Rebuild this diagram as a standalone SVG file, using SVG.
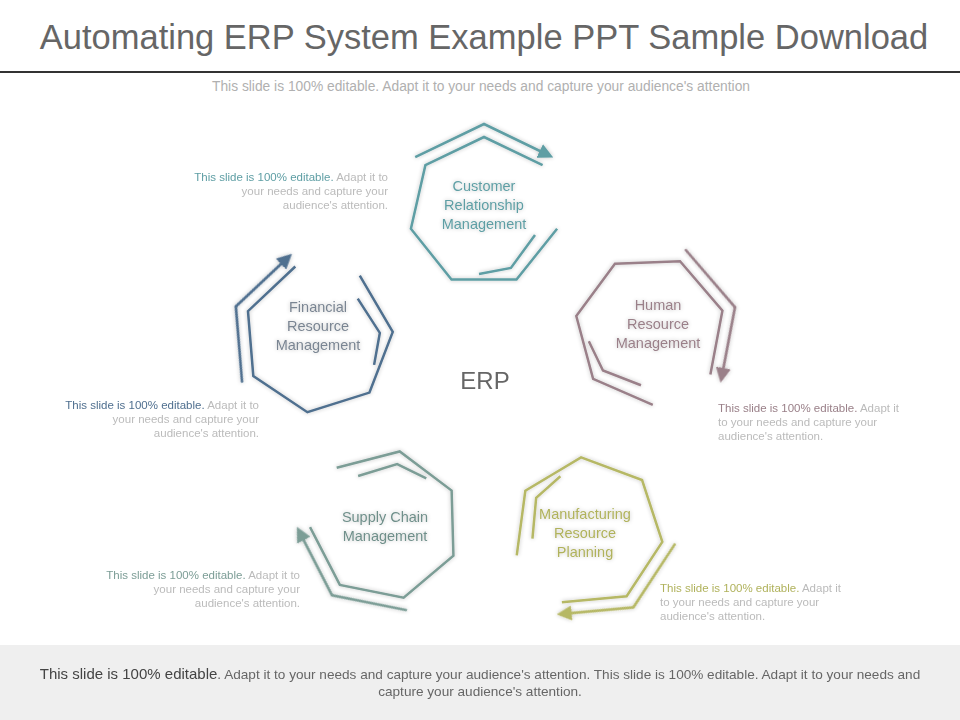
<svg xmlns="http://www.w3.org/2000/svg" xmlns:xlink="http://www.w3.org/1999/xlink" width="960" height="720" viewBox="0 0 960 720">
<style>
text{font-family:"Liberation Sans",Arial,sans-serif}
.lab{font-size:14.5px;text-anchor:middle}
.side{font-size:11.5px;fill:#bbb}
.ln{fill:none;stroke-width:2.5;stroke-linejoin:miter}
</style>
<defs>
<filter id="glow" x="-20%" y="-20%" width="140%" height="140%"><feGaussianBlur in="SourceAlpha" stdDeviation="2"/><feOffset dx="0" dy="0"/><feComponentTransfer><feFuncA type="linear" slope="0.25"/></feComponentTransfer><feMerge><feMergeNode/><feMergeNode in="SourceGraphic"/></feMerge></filter>
<marker id="m1" markerWidth="6" markerHeight="6" refX="1" refY="3" orient="auto" markerUnits="strokeWidth"><path d="M0,0 L6,3 L0,6 Z" fill="#5e9ea4"/></marker>
<marker id="m2" markerWidth="6" markerHeight="6" refX="1" refY="3" orient="auto" markerUnits="strokeWidth"><path d="M0,0 L6,3 L0,6 Z" fill="#4f6f8f"/></marker>
<marker id="m3" markerWidth="6" markerHeight="6" refX="1" refY="3" orient="auto" markerUnits="strokeWidth"><path d="M0,0 L6,3 L0,6 Z" fill="#9a8089"/></marker>
<marker id="m4" markerWidth="6" markerHeight="6" refX="1" refY="3" orient="auto" markerUnits="strokeWidth"><path d="M0,0 L6,3 L0,6 Z" fill="#b6b865"/></marker>
<marker id="m5" markerWidth="6" markerHeight="6" refX="1" refY="3" orient="auto" markerUnits="strokeWidth"><path d="M0,0 L6,3 L0,6 Z" fill="#7c9d96"/></marker>
<g id="hept">
<path class="ln" d="M73.1,16.7 L32.5,67.6 L-32.5,67.6 L-73.1,16.7 L-58.6,-46.8 L0,-75 L58.6,-46.8"/>
<path class="ln" d="M-5,62 L26.9,55.9 L51,23"/>
</g>
<path id="arc" class="ln" d="M-68.8,-54.9 L0,-88 L58,-60"/>
</defs>
<rect x="0" y="645" width="960" height="75" fill="#efefef"/>
<text x="484" y="49" font-size="34.5" fill="#666" text-anchor="middle">Automating ERP System Example PPT Sample Download</text>
<line x1="0" y1="72" x2="960" y2="72" stroke="#333" stroke-width="2"/>
<text x="481" y="91" font-size="13.8" fill="#b0b0b0" text-anchor="middle">This slide is 100% editable. Adapt it to your needs and capture your audience's attention</text>
<g id="connectors" filter="url(#glow)">
<use xlink:href="#arc" transform="translate(484,212)" stroke="#5e9ea4" marker-end="url(#m1)"/>
<use xlink:href="#arc" transform="translate(318,338) rotate(-69)" stroke="#4f6f8f" marker-end="url(#m2)"/>
<use xlink:href="#arc" transform="translate(650,330) rotate(75)" stroke="#9a8089" marker-end="url(#m3)"/>
<use xlink:href="#arc" transform="translate(588,532) rotate(149)" stroke="#b6b865" marker-end="url(#m4)"/>
<use xlink:href="#arc" transform="translate(385,525) rotate(217)" stroke="#7c9d96" marker-end="url(#m5)"/>
</g>
<g id="crm" filter="url(#glow)">
<use xlink:href="#hept" transform="translate(484,212)" stroke="#5e9ea4"/>
<text class="lab" fill="#5e9ea4" x="484" y="191">Customer<tspan x="484" dy="19">Relationship</tspan><tspan x="484" dy="19">Management</tspan></text>
</g>
<g id="frm" filter="url(#glow)">
<use xlink:href="#hept" transform="translate(318,338) rotate(-69)" stroke="#4f6f8f"/>
<text class="lab" fill="#7a8592" x="318" y="312">Financial<tspan x="318" dy="19">Resource</tspan><tspan x="318" dy="19">Management</tspan></text>
</g>
<g id="hrm" filter="url(#glow)">
<use xlink:href="#hept" transform="translate(650,330) rotate(75)" stroke="#9a8089"/>
<text class="lab" fill="#9a8089" x="658" y="310">Human<tspan x="658" dy="19">Resource</tspan><tspan x="658" dy="19">Management</tspan></text>
</g>
<g id="mrp" filter="url(#glow)">
<use xlink:href="#hept" transform="translate(588,532) rotate(149)" stroke="#b6b865"/>
<text class="lab" fill="#b0b25c" x="585" y="519">Manufacturing<tspan x="585" dy="19">Resource</tspan><tspan x="585" dy="19">Planning</tspan></text>
</g>
<g id="scm" filter="url(#glow)">
<use xlink:href="#hept" transform="translate(385,525) rotate(217)" stroke="#7c9d96"/>
<text class="lab" fill="#6f8f8a" x="385" y="522">Supply Chain<tspan x="385" dy="19">Management</tspan></text>
</g>
<text x="485" y="389" font-size="24" fill="#666" text-anchor="middle">ERP</text>
<g id="notes">
<text class="side" x="388" y="181" text-anchor="end"><tspan fill="#5e9ea4">This slide is 100% editable.</tspan> Adapt it to<tspan x="388" dy="14">your needs and capture your</tspan><tspan x="388" dy="14">audience's attention.</tspan></text>
<text class="side" x="259" y="409" text-anchor="end"><tspan fill="#4f6f8f">This slide is 100% editable.</tspan> Adapt it to<tspan x="259" dy="14">your needs and capture your</tspan><tspan x="259" dy="14">audience's attention.</tspan></text>
<text class="side" x="718" y="412"><tspan fill="#9a8089">This slide is 100% editable.</tspan> Adapt it<tspan x="718" dy="14">to your needs and capture your</tspan><tspan x="718" dy="14">audience's attention.</tspan></text>
<text class="side" x="300" y="579" text-anchor="end"><tspan fill="#7c9d96">This slide is 100% editable.</tspan> Adapt it to<tspan x="300" dy="14">your needs and capture your</tspan><tspan x="300" dy="14">audience's attention.</tspan></text>
<text class="side" x="660" y="592"><tspan fill="#b0b25c">This slide is 100% editable.</tspan> Adapt it<tspan x="660" dy="14">to your needs and capture your</tspan><tspan x="660" dy="14">audience's attention.</tspan></text>
</g>
<text x="480" y="679" font-size="13.6" fill="#666" text-anchor="middle"><tspan font-size="15" fill="#444">This slide is 100% editable</tspan>. Adapt it to your needs and capture your audience's attention. This slide is 100% editable. Adapt it to your needs and</text>
<text x="480" y="696" font-size="13.6" fill="#666" text-anchor="middle">capture your audience's attention.</text>
</svg>
